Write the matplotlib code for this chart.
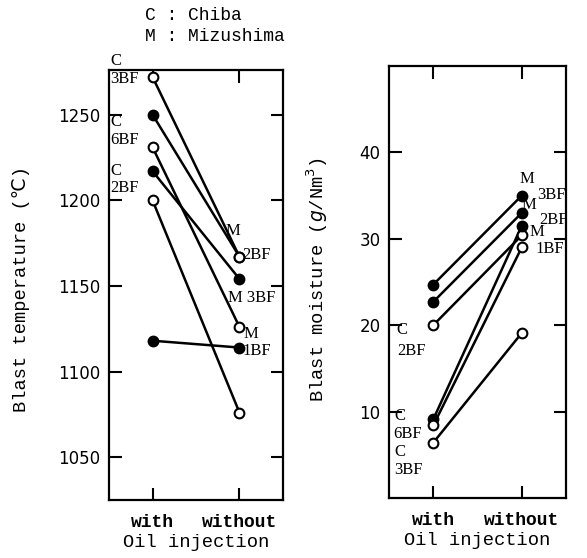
import matplotlib
matplotlib.use("Agg")
import matplotlib.pyplot as plt

# x categories
conditions = ["with", "without"]

# blast temperature, one entry per furnace (with oil, without oil)
temp_with = [1272, 1250, 1231, 1217, 1200, 1118]
temp_without = [1167, 1167, 1126, 1154, 1076, 1114]
temp_with_filled = [False, True, False, True, False, True]
temp_without_filled = [False, False, False, True, False, True]

# blast moisture (g/Nm3)
moist_with = [24.7, 22.7, 20.0, 9.1, 8.4, 6.4]
moist_without = [35.0, 33.0, 30.4, 31.5, 29.0, 19.1]
moist_with_filled = [True, True, False, True, False, False]
moist_without_filled = [True, True, False, True, False, False]

temp_ticks = [1050, 1100, 1150, 1200, 1250]
moist_ticks = [10, 20, 30, 40]

mono = ["Liberation Mono", "DejaVu Sans Mono", "DejaVu Sans"]
serif = ["Liberation Serif", "DejaVu Serif"]

fig = plt.figure(figsize=(5.87, 5.58), dpi=100)
ax1 = fig.add_axes([0.1857, 0.1039, 0.2964, 0.7706])
ax2 = fig.add_axes([0.6627, 0.1075, 0.3015, 0.7742])


def draw_pairs(ax, yw, yo, fw, fo):
    for a, b, fa, fb in zip(yw, yo, fw, fo):
        ax.plot([1, 2], [a, b], color="black", lw=1.8, zorder=2)
        ax.plot(1, a, "o", ms=7, mew=1.5, mec="black",
                mfc="black" if fa else "white", zorder=3)
        ax.plot(2, b, "o", ms=7, mew=1.5, mec="black",
                mfc="black" if fb else "white", zorder=3)


def style(ax, yticks, ylim):
    ax.set_xlim(0.5, 2.5)
    ax.set_ylim(*ylim)
    ax.set_xticks([1, 2])
    ax.set_xticklabels(conditions, family=mono, fontsize=13, fontweight="bold")
    ax.set_yticks(yticks)
    ax.set_yticklabels([str(t) for t in yticks], fontsize=12)
    ax.tick_params(direction="in", length=9, width=1.5, top=True, right=True)
    ax.tick_params(axis="x", pad=10)
    ax.tick_params(axis="y", pad=6)
    for s in ax.spines.values():
        s.set_linewidth(1.6)
    ax.set_xlabel("Oil injection", family=mono, fontsize=13.5, labelpad=2)


draw_pairs(ax1, temp_with, temp_without, temp_with_filled, temp_without_filled)
draw_pairs(ax2, moist_with, moist_without, moist_with_filled, moist_without_filled)
style(ax1, temp_ticks, (1025, 1276))
style(ax2, moist_ticks, (0, 50))

ax1.set_ylabel("Blast temperature (℃)", family=mono, fontsize=13.5)
ax1.yaxis.set_label_coords(-0.454, 0.49)
ax2.set_ylabel("Blast moisture ($g$/Nm$^3$)", family=mono, fontsize=13.5)
ax2.yaxis.set_label_coords(-0.333, 0.505)

# furnace labels
lab = dict(family=serif, fontsize=12, va="center", ha="left", clip_on=False)
for x, y, t in [(0.52, 1281, "C"), (0.51, 1270.5, "3BF"),
                (0.52, 1245.5, "C"), (0.51, 1235, "6BF"),
                (0.52, 1217, "C"), (0.51, 1207, "2BF"),
                (1.84, 1182, "M"), (2.03, 1168, "2BF"),
                (1.87, 1143, "M 3BF"),
                (2.05, 1122, "M"), (2.03, 1112, "1BF")]:
    ax1.text(x, y, t, **lab)

for x, y, t in [(1.98, 36.9, "M"), (2.18, 35.1, "3BF"),
                (2.0, 33.9, "M"), (2.2, 32.2, "2BF"),
                (2.09, 30.8, "M"), (2.15, 28.8, "1BF"),
                (0.58, 19.4, "C"), (0.59, 17.0, "2BF"),
                (0.56, 9.5, "C"), (0.55, 7.4, "6BF"),
                (0.56, 5.3, "C"), (0.56, 3.3, "3BF")]:
    ax2.text(x, y, t, **lab)

fig.text(0.247, 0.973, "C : Chiba", family=mono, fontsize=13, va="center")
fig.text(0.247, 0.934, "M : Mizushima", family=mono, fontsize=13, va="center")

fig.savefig("out.png", dpi=100)
